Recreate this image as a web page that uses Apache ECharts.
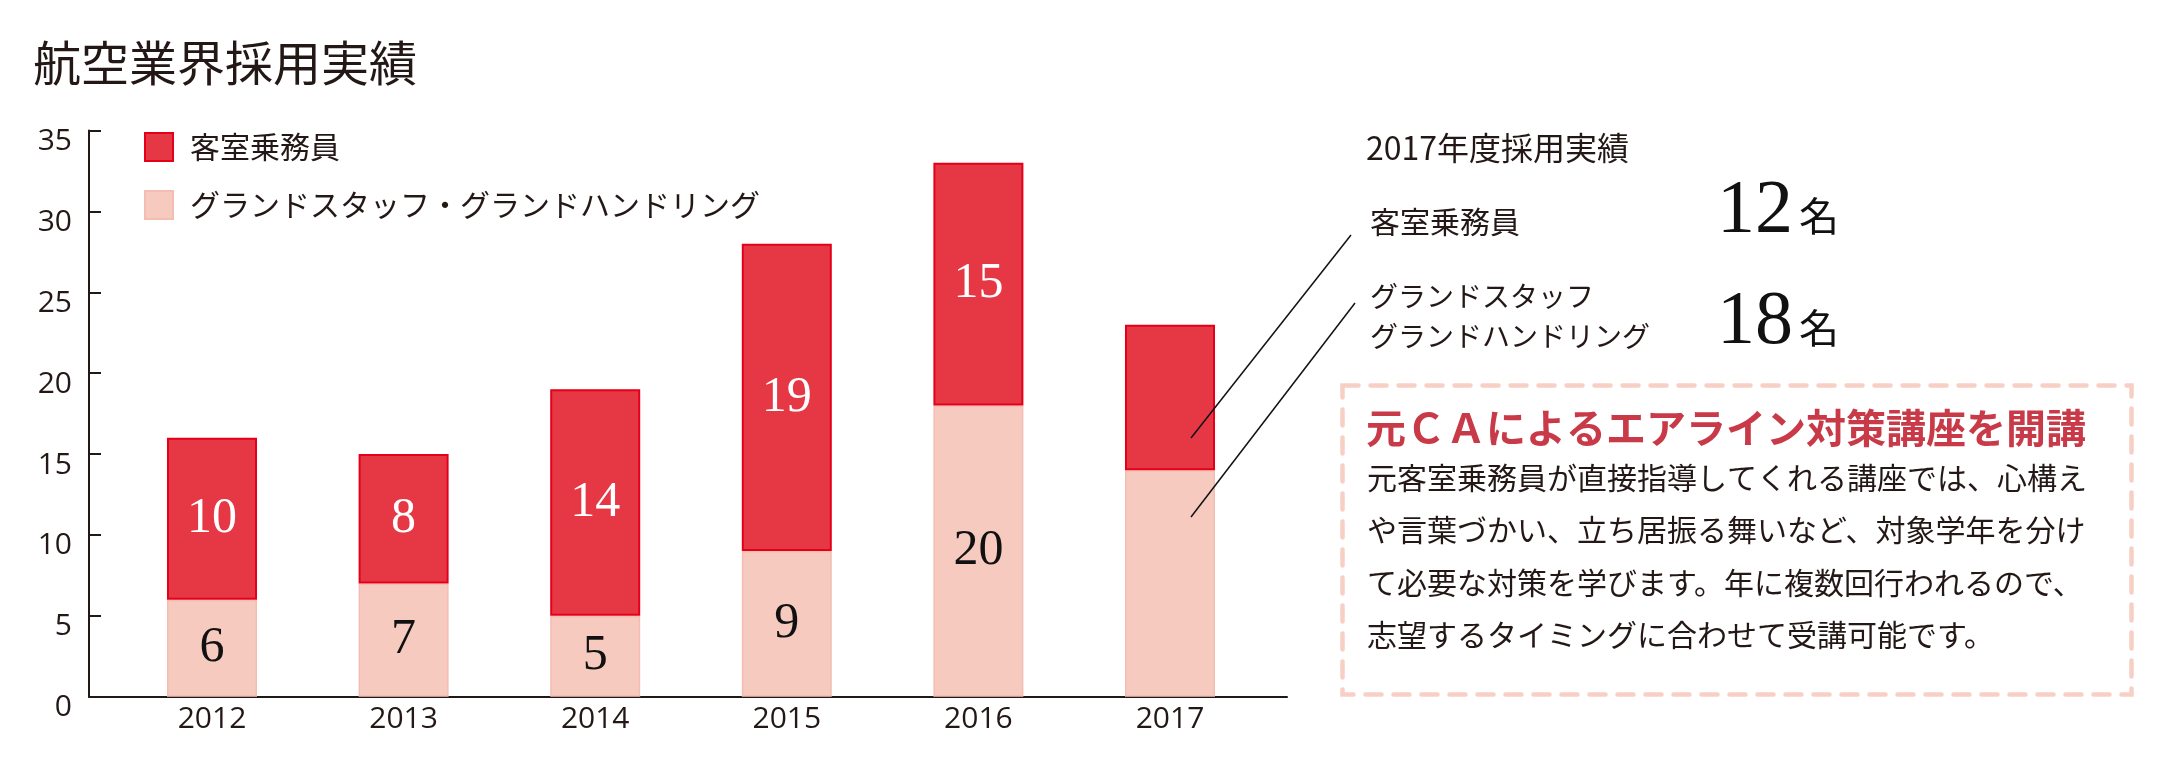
<!DOCTYPE html>
<html>
<head>
<meta charset="utf-8">
<script src="https://cdn.jsdelivr.net/npm/echarts@6/dist/echarts.min.js"></script>
<style>
html,body{margin:0;padding:0;background:#fff;}
#chart{width:2174px;height:772px;}
</style>
</head>
<body>
<div id="chart"></div>
<script>
// ---- data ----
const years = ['2012', '2013', '2014', '2015', '2016', '2017'];
const staffValues = [6, 7, 5, 9, 18, 14];       // pink segment heights
const cabinValues = [10, 8, 14, 19, 15, 9];     // red segment heights
const staffLabels = ['6', '7', '5', '9', '20', ''];
const cabinLabels = ['10', '8', '14', '19', '15', ''];
const yTicks = [0, 5, 10, 15, 20, 25, 30, 35];
const seriesNames = ['客室乗務員', 'グランドスタッフ・グランドハンドリング'];
const titleText = '航空業界採用実績';
const summaryTitle = '2017年度採用実績';
const summaryRows = [
  { label: ['客室乗務員'], count: '12', unit: '名' },
  { label: ['グランドスタッフ', 'グランドハンドリング'], count: '18', unit: '名' }
];
const courseHeading = '元ＣＡによるエアライン対策講座を開講';
const courseLines = [
  '元客室乗務員が直接指導してくれる講座では、心構え',
  'や言葉づかい、立ち居振る舞いなど、対象学年を分け',
  'て必要な対策を学びます。年に複数回行われるので、',
  '志望するタイミングに合わせて受講可能です。'
];

// ---- styles ----
const JP = '"Noto Sans CJK JP", "Noto Sans", sans-serif';
const SERIF = '"Liberation Serif", "DejaVu Serif", serif';
const SANS = '"Open Sans", "Noto Sans", sans-serif';
const INK = '#231815';

const chart = echarts.init(document.getElementById('chart'), null, { renderer: 'canvas' });

const graphics = [];
graphics.push({ type: 'text', x: 1366, y: 148, style: { text: summaryTitle, fill: INK, font: 'normal 32px ' + JP, verticalAlign: 'middle' } });
// row 1
graphics.push({ type: 'text', x: 1370, y: 222, style: { text: summaryRows[0].label[0], fill: INK, font: 'normal 30px ' + JP, verticalAlign: 'middle' } });
graphics.push({ type: 'text', x: 1717, y: 212, style: { text: summaryRows[0].count, fill: '#111', font: 'normal 76px ' + SERIF, verticalAlign: 'middle' } });
graphics.push({ type: 'text', x: 1799, y: 216, style: { text: summaryRows[0].unit, fill: '#111', font: 'normal 40px ' + JP, verticalAlign: 'middle' } });
// row 2
graphics.push({ type: 'text', x: 1370, y: 296, style: { text: summaryRows[1].label[0], fill: INK, font: 'normal 28px ' + JP, verticalAlign: 'middle' } });
graphics.push({ type: 'text', x: 1370, y: 336, style: { text: summaryRows[1].label[1], fill: INK, font: 'normal 28px ' + JP, verticalAlign: 'middle' } });
graphics.push({ type: 'text', x: 1717, y: 323, style: { text: summaryRows[1].count, fill: '#111', font: 'normal 76px ' + SERIF, verticalAlign: 'middle' } });
graphics.push({ type: 'text', x: 1799, y: 328, style: { text: summaryRows[1].unit, fill: '#111', font: 'normal 40px ' + JP, verticalAlign: 'middle' } });
// leader lines (drawn above the bars)
graphics.push({ type: 'line', z: 100, shape: { x1: 1351, y1: 235, x2: 1191, y2: 438 }, style: { stroke: '#111', lineWidth: 1.5 } });
graphics.push({ type: 'line', z: 100, shape: { x1: 1355, y1: 303, x2: 1191, y2: 517 }, style: { stroke: '#111', lineWidth: 1.5 } });
// dashed box
graphics.push({ type: 'rect', shape: { x: 1342.5, y: 385.5, width: 789, height: 309 }, style: { fill: 'none', stroke: '#F8CFC5', lineWidth: 4.5, lineDash: [16, 12], lineCap: 'round' } });
graphics.push({ type: 'text', x: 1366, y: 428, style: { text: courseHeading, fill: '#C93A49', font: 'bold 40px ' + JP, verticalAlign: 'middle' } });
const lineYs = [478, 530, 583, 635];
courseLines.forEach((t, i) => {
  graphics.push({ type: 'text', x: 1367, y: lineYs[i], style: { text: t, fill: INK, font: 'normal 30px ' + JP, verticalAlign: 'middle' } });
});

const option = {
  animation: false,
  backgroundColor: '#ffffff',
  title: {
    text: titleText,
    left: 28, top: 34,
    textStyle: { fontFamily: JP, fontSize: 48, fontWeight: 'normal', color: INK }
  },
  legend: {
    data: seriesNames,
    orient: 'vertical',
    left: 144, top: 132,
    padding: 0,
    itemWidth: 28, itemHeight: 28, itemGap: 28,
    icon: 'rect',
    textStyle: { fontFamily: JP, fontSize: 30, color: INK, padding: [0, 0, 0, 12] }
  },
  grid: [
    // bars (category bands)
    { left: 116.2, right: 908.2, top: 130.5, bottom: 75.3, containLabel: false },
    // visible axes frame
    { left: 89, right: 887, top: 130.5, bottom: 75.3, containLabel: false }
  ],
  xAxis: [
    {
      type: 'category', gridIndex: 0, data: years, boundaryGap: true,
      axisLine: { show: false }, axisTick: { show: false }, splitLine: { show: false },
      axisLabel: { fontFamily: SANS, fontSize: 30, color: INK, margin: 8, lineHeight: 30 }
    },
    {
      type: 'value', gridIndex: 1, min: 0, max: 1,
      axisLine: { show: true, onZero: false, lineStyle: { color: INK, width: 2 } },
      axisTick: { show: false }, splitLine: { show: false }, axisLabel: { show: false }
    }
  ],
  yAxis: [
    { type: 'value', gridIndex: 0, min: 0, max: 35, interval: 5, show: false },
    {
      type: 'value', gridIndex: 1,
      min: 0, max: 35, interval: 5,
      axisLine: { show: true, onZero: false, lineStyle: { color: INK, width: 2 } },
      axisTick: { show: true, inside: true, length: 12, lineStyle: { color: INK, width: 2 } },
      splitLine: { show: false },
      axisLabel: {
        fontFamily: SANS, fontSize: 30, color: INK, margin: 17,
        verticalAlign: 'top', lineHeight: 22,
        formatter: v => (yTicks.indexOf(v) >= 0 ? String(v) : '')
      }
    }
  ],
  series: [
    {
      name: seriesNames[1],
      type: 'bar',
      xAxisIndex: 0, yAxisIndex: 0,
      stack: 'total',
      barWidth: 90,
      data: staffValues,
      itemStyle: { color: '#F7CAC0', borderColor: '#F4BDB1', borderWidth: 1.5 },
      label: {
        show: true, position: 'inside',
        formatter: p => staffLabels[p.dataIndex],
        fontFamily: SERIF, fontSize: 50, color: '#111'
      }
    },
    {
      name: seriesNames[0],
      type: 'bar',
      xAxisIndex: 0, yAxisIndex: 0,
      stack: 'total',
      barWidth: 90,
      data: cabinValues,
      itemStyle: { color: '#E63745', borderColor: '#E50019', borderWidth: 2 },
      label: {
        show: true, position: 'inside',
        formatter: p => cabinLabels[p.dataIndex],
        fontFamily: SERIF, fontSize: 50, color: '#ffffff'
      }
    }
  ],
  graphic: graphics
};
chart.setOption(option);
</script>
</body>
</html>
